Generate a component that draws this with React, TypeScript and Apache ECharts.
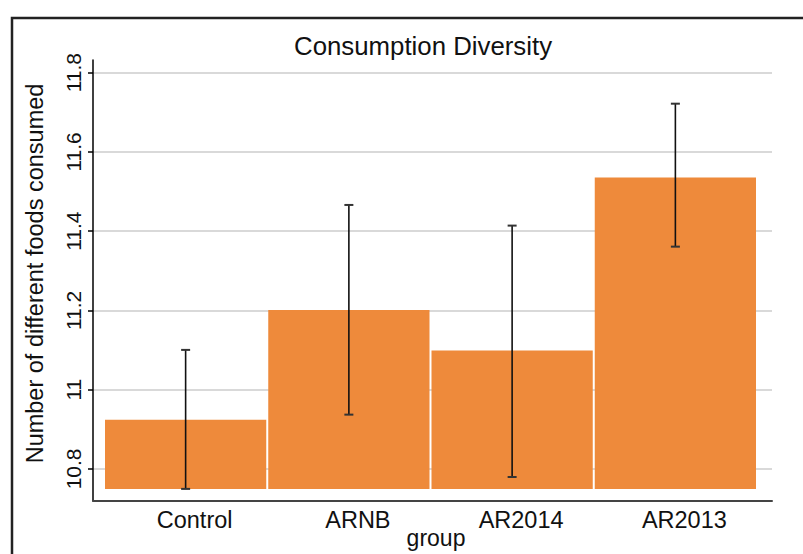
import React, { useEffect, useRef } from "react";
import * as echarts from "echarts";

const categories = ["Control", "ARNB", "AR2014", "AR2013"];
const means = [10.926, 11.2025, 11.1005, 11.536];
const ciLow = [10.752, 10.939, 10.782, 11.362];
const ciHigh = [11.102, 11.467, 11.415, 11.722];
const barBase = 10.752;
const yTicks = [10.8, 11, 11.2, 11.4, 11.6, 11.8];
const yMin = 10.719;
const yMax = 11.832;

const FONT = "'Liberation Sans', Arial, Helvetica, sans-serif";
const BAR_COLOR = "#EE8A3B";

export default function App() {
  const ref = useRef<HTMLDivElement>(null);
  useEffect(() => {
    if (!ref.current) return;
    const chart = echarts.init(ref.current, undefined, { renderer: "svg" });
    const barData = categories.map((_, i) => [i, means[i], barBase]);
    const errData = categories.map((_, i) => [i, ciLow[i], ciHigh[i]]);
    const option: any = {
      animation: false,
      backgroundColor: "#ffffff",
      textStyle: { fontFamily: FONT },
      title: {
        text: "Consumption Diversity",
        left: 294,
        top: 33,
        padding: 0,
        textStyle: { fontFamily: FONT, fontSize: 25.8, fontWeight: "normal", color: "#111" },
      },
      graphic: [
        {
          type: "rect",
          shape: { x: 12, y: 18, width: 900, height: 700 },
          style: { fill: "none", stroke: "#222", lineWidth: 2.5 },
          silent: true,
          z: 100,
        },
      ],
      grid: [
        { left: 93, right: 31, top: 60, bottom: 52 },
        { left: 104, right: 46, top: 60, bottom: 52 },
      ],
      xAxis: [
        {
          type: "value",
          gridIndex: 0,
          min: 0,
          max: 1,
          axisLine: { show: true, onZero: false, lineStyle: { color: "#444", width: 2 } },
          axisTick: { show: false },
          axisLabel: { show: false },
          splitLine: { show: false },
          name: "group",
          nameLocation: "middle",
          nameGap: 25,
          nameTextStyle: { fontFamily: FONT, fontSize: 23, color: "#111", padding: [0, 0, 0, 7] },
        },
        {
          type: "category",
          gridIndex: 1,
          data: categories,
          boundaryGap: true,
          axisLine: { show: false },
          axisTick: { show: false },
          splitLine: { show: false },
          axisLabel: {
            fontFamily: FONT,
            fontSize: 23.5,
            color: "#111",
            margin: 6,
            padding: [0, 0, 0, 18],
          },
        },
      ],
      yAxis: [
        {
          type: "value",
          gridIndex: 0,
          min: yMin,
          max: yMax,
          name: "Number of different foods consumed",
          nameLocation: "middle",
          nameGap: 46,
          nameTextStyle: { fontFamily: FONT, fontSize: 23.5, color: "#111", padding: [0, 0, 0, 14] },
          axisLine: { show: true, onZero: false, lineStyle: { color: "#000", width: 1.5 } },
          axisTick: { show: true, length: 5, customValues: yTicks, lineStyle: { color: "#000", width: 1.5 } },
          axisLabel: {
            customValues: yTicks,
            rotate: 90,
            margin: 9,
            fontFamily: FONT,
            fontSize: 21,
            color: "#111",
            formatter: (v: number) => String(Math.round(v * 10) / 10),
          },
          splitLine: { show: true, lineStyle: { color: "#cccccc", width: 1.5 } },
        },
        {
          type: "value",
          gridIndex: 1,
          min: yMin,
          max: yMax,
          show: false,
          splitLine: { show: false },
        },
      ],
      series: [
        {
          type: "custom",
          name: "mean",
          xAxisIndex: 1,
          yAxisIndex: 1,
          data: barData,
          encode: { x: 0, y: [1, 2] },
          renderItem: (params: any, api: any) => {
            const i = api.value(0);
            const top = api.coord([i, api.value(1)]);
            const bot = api.coord([i, api.value(2)]);
            const bw = api.size([1, 0])[0];
            return {
              type: "rect",
              shape: { x: top[0] - bw / 2 + 1, y: top[1], width: bw - 2, height: bot[1] - top[1] },
              style: { fill: BAR_COLOR },
            };
          },
          z: 2,
        },
        {
          type: "custom",
          name: "ci",
          xAxisIndex: 1,
          yAxisIndex: 1,
          data: errData,
          encode: { x: 0, y: [1, 2] },
          renderItem: (params: any, api: any) => {
            const i = api.value(0);
            const lo = api.coord([i, api.value(1)]);
            const hi = api.coord([i, api.value(2)]);
            const x = lo[0];
            const cw = 4.5;
            return {
              type: "group",
              children: [
                { type: "line", shape: { x1: x, y1: lo[1], x2: x, y2: hi[1] }, style: { stroke: "#111", lineWidth: 1.6 } },
                { type: "line", shape: { x1: x - cw, y1: lo[1], x2: x + cw, y2: lo[1] }, style: { stroke: "#333", lineWidth: 2 } },
                { type: "line", shape: { x1: x - cw, y1: hi[1], x2: x + cw, y2: hi[1] }, style: { stroke: "#333", lineWidth: 2 } },
              ],
            };
          },
          z: 3,
        },
      ],
    };
    chart.setOption(option);
    return () => chart.dispose();
  }, []);
  return (
    <div
      ref={ref}
      style={{ position: "fixed", left: 0, top: 0, width: 803, height: 554, background: "#fff" }}
    />
  );
}
